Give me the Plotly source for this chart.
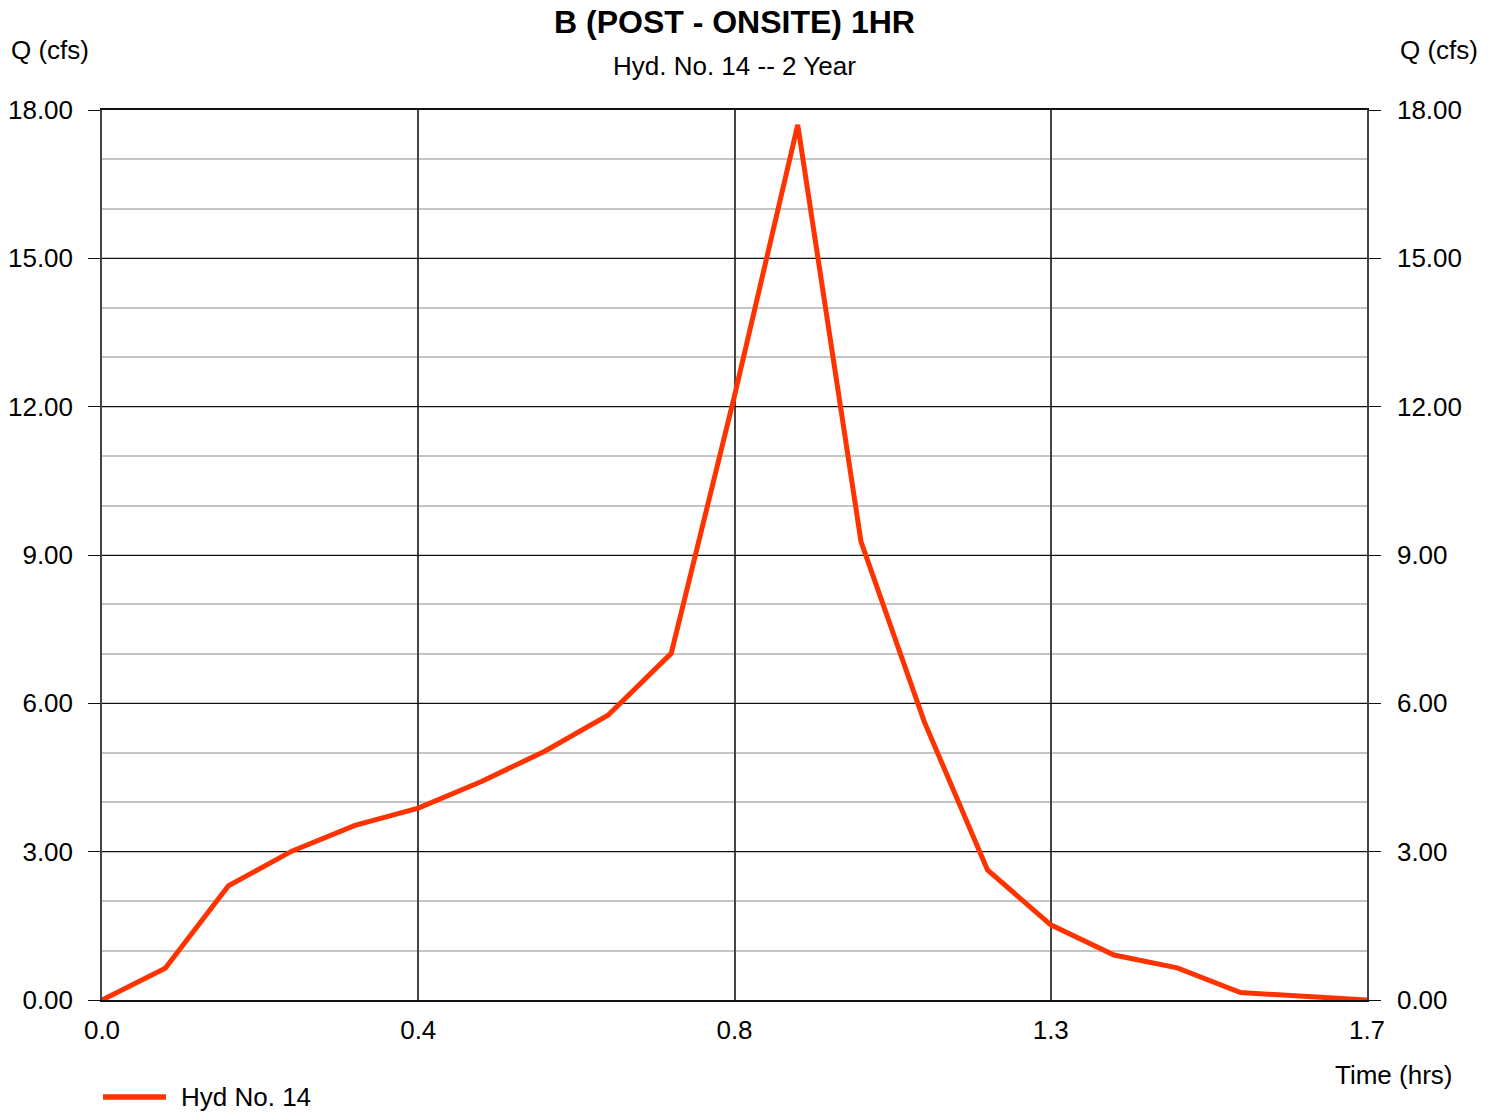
import plotly.graph_objects as go

# Hydrograph ordinates: 5-minute steps (hrs) and flow (cfs)
time_hrs = [i / 12 for i in range(21)]
flow_cfs = [0.00, 0.64, 2.31, 3.01, 3.53, 3.88, 4.42, 5.03, 5.76, 7.01,
            12.22, 17.70, 9.27, 5.63, 2.63, 1.52, 0.91, 0.65, 0.15, 0.07, 0.00]

x_tick_vals = [0, 5 / 12, 10 / 12, 15 / 12, 20 / 12]
x_tick_text = ["0.0", "0.4", "0.8", "1.3", "1.7"]
y_tick_vals = [0, 3, 6, 9, 12, 15, 18]

title_text = "B (POST - ONSITE) 1HR"
subtitle_text = "Hyd. No. 14 -- 2 Year"
series_name = "Hyd No. 14"

FONT = "Liberation Sans, Arial, sans-serif"
LINE_RED = "#ff3300"
TXT = 26

fig = go.Figure()
fig.add_trace(go.Scatter(
    x=time_hrs, y=flow_cfs, mode="lines", name=series_name,
    line=dict(color=LINE_RED, width=5), showlegend=False,
))
# same hydrograph on the mirrored right-hand axis (invisible)
fig.add_trace(go.Scatter(
    x=time_hrs, y=flow_cfs, mode="lines", yaxis="y2",
    line=dict(color="rgba(0,0,0,0)", width=0), showlegend=False, hoverinfo="skip",
))

yaxis_common = dict(
    range=[0, 18], tickvals=y_tick_vals, tickformat=".2f",
    ticks="outside", ticklen=12, tickcolor="#111", tickwidth=1.2,
    tickfont=dict(family=FONT, size=TXT, color="#000"),
    showgrid=True, gridcolor="#111", gridwidth=1.2,
    zeroline=False, fixedrange=True, automargin=False,
)

fig.update_layout(
    width=1496, height=1112,
    margin=dict(l=102, r=129, t=110, b=112),
    paper_bgcolor="white", plot_bgcolor="white",
    font=dict(family=FONT, color="#000"),
    xaxis=dict(
        range=[0, 20 / 12], tickvals=x_tick_vals, ticktext=x_tick_text,
        ticks="", ticklabelstandoff=6,
        tickfont=dict(family=FONT, size=TXT, color="#000"),
        showgrid=True, gridcolor="#444", gridwidth=1.5,
        showline=True, linecolor="#111", linewidth=1.5, mirror=True,
        zeroline=False, fixedrange=True, automargin=False,
    ),
    yaxis=dict(
        **yaxis_common,
        minor=dict(dtick=1, showgrid=True, gridcolor="#c4c4c4", gridwidth=2.2),
        showline=True, linecolor="#444", linewidth=1.5,
        ticklabelstandoff=10,
    ),
    yaxis2=dict(
        **yaxis_common, overlaying="y", side="right",
        showline=True, linecolor="#444", linewidth=1.5,
        ticklabelstandoff=11,
    ),
)

annotations = [
    dict(text=f"<b>{title_text}</b>", x=0.5, y=22, size=32),
    dict(text=subtitle_text, x=0.5, y=66, size=TXT),
]
for a in annotations:
    fig.add_annotation(
        text=a["text"], xref="paper", yref="paper",
        x=a["x"], y=(1000 - a["y"]) / 890, xanchor="center", yanchor="middle",
        showarrow=False, font=dict(family=FONT, size=a["size"], color="#000"),
    )

def px_x(p):
    return (p - 102) / 1265

def px_y(p):
    return (1000 - p) / 890

# axis captions
fig.add_annotation(text="Q (cfs)", xref="paper", yref="paper", x=px_x(9), y=px_y(50),
                   xanchor="left", yanchor="middle", showarrow=False,
                   font=dict(family=FONT, size=TXT, color="#000"))
fig.add_annotation(text="Q (cfs)", xref="paper", yref="paper", x=px_x(1480), y=px_y(50),
                   xanchor="right", yanchor="middle", showarrow=False,
                   font=dict(family=FONT, size=TXT, color="#000"))
fig.add_annotation(text="Time (hrs)", xref="paper", yref="paper", x=px_x(1454), y=px_y(1075),
                   xanchor="right", yanchor="middle", showarrow=False,
                   font=dict(family=FONT, size=TXT, color="#000"))

# legend entry
fig.add_shape(type="line", xref="paper", yref="paper",
              x0=px_x(103), x1=px_x(166), y0=px_y(1097), y1=px_y(1097),
              line=dict(color=LINE_RED, width=5.5))
fig.add_annotation(text=series_name, xref="paper", yref="paper", x=px_x(179), y=px_y(1097),
                   xanchor="left", yanchor="middle", showarrow=False,
                   font=dict(family=FONT, size=TXT, color="#000"))

fig.write_html("out.html")
